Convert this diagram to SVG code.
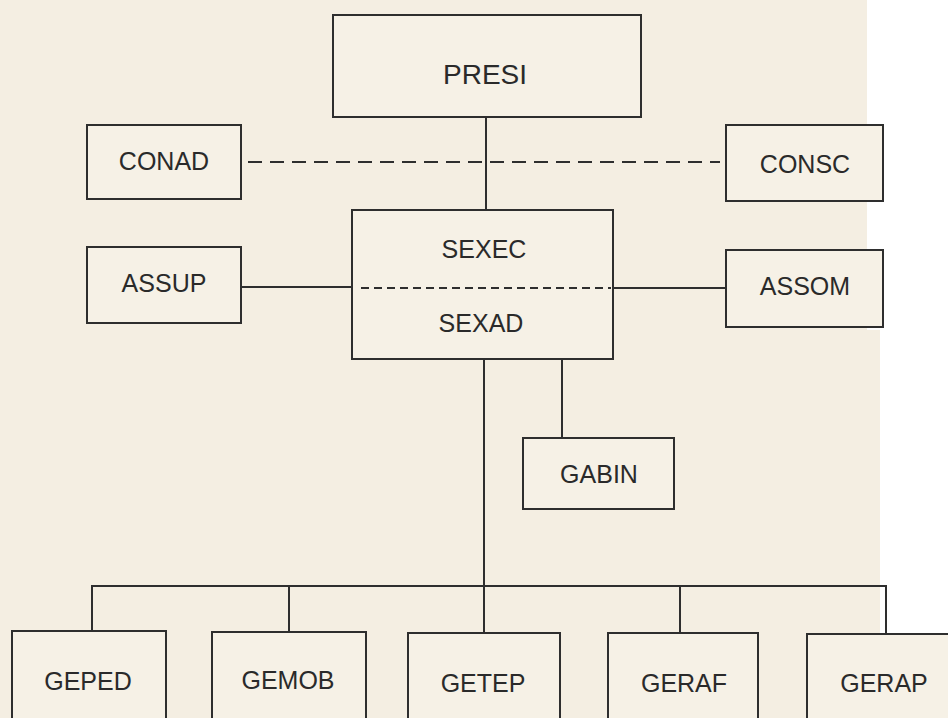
<svg xmlns="http://www.w3.org/2000/svg" width="948" height="718" viewBox="0 0 948 718">
  <style>
    .box { fill: #f6f1e6; stroke: #2e2e2e; stroke-width: 2; }
    .ln { fill: none; stroke: #2e2e2e; stroke-width: 2; }
    .dash { fill: none; stroke: #2e2e2e; stroke-width: 2; stroke-dasharray: 14 8; }
    .dash2 { fill: none; stroke: #2e2e2e; stroke-width: 2; stroke-dasharray: 8 5; }
    text { font-family: "Liberation Sans", Arial, sans-serif; font-size: 25px; fill: #2a2a2a; text-anchor: middle; }
  </style>
  <rect x="0" y="0" width="948" height="718" fill="#ffffff"/>
  <path d="M0 0 H867 V330 H880 V718 H0 Z" fill="#f4eee2"/>

  <g id="connectors">
    <line class="ln" x1="486" y1="117" x2="486" y2="210"/>
    <line class="dash" x1="248" y1="162" x2="720" y2="162"/>
    <line class="ln" x1="241" y1="287" x2="352" y2="287"/>
    <line class="ln" x1="613" y1="288" x2="726" y2="288"/>
    <line class="ln" x1="562" y1="359" x2="562" y2="438"/>
    <line class="ln" x1="484" y1="359" x2="484" y2="586"/>
    <polyline class="ln" points="92,631 92,586 886,586 886,634"/>
    <line class="ln" x1="289" y1="586" x2="289" y2="632"/>
    <line class="ln" x1="484" y1="586" x2="484" y2="633"/>
    <line class="ln" x1="680" y1="586" x2="680" y2="633"/>
  </g>

  <g id="PRESI">
    <rect class="box" x="333" y="15" width="308" height="102"/>
    <text x="485" y="84" style="font-size:28px">PRESI</text>
  </g>
  <g id="CONAD">
    <rect class="box" x="87" y="125" width="154" height="74"/>
    <text x="164" y="170">CONAD</text>
  </g>
  <g id="CONSC">
    <rect class="box" x="726" y="125" width="157" height="76"/>
    <text x="805" y="173">CONSC</text>
  </g>
  <g id="SEXEC">
    <rect class="box" x="352" y="210" width="261" height="149"/>
    <line class="dash2" x1="361" y1="288" x2="611" y2="288"/>
    <text x="484" y="258">SEXEC</text>
    <text x="481" y="332">SEXAD</text>
  </g>
  <g id="ASSUP">
    <rect class="box" x="87" y="247" width="154" height="76"/>
    <text x="164" y="292">ASSUP</text>
  </g>
  <g id="ASSOM">
    <rect class="box" x="726" y="250" width="157" height="77"/>
    <text x="805" y="295">ASSOM</text>
  </g>
  <g id="GABIN">
    <rect class="box" x="523" y="438" width="151" height="71"/>
    <text x="599" y="483">GABIN</text>
  </g>
  <g id="GEPED">
    <rect class="box" x="12" y="631" width="154" height="100"/>
    <text x="88" y="690">GEPED</text>
  </g>
  <g id="GEMOB">
    <rect class="box" x="212" y="632" width="154" height="100"/>
    <text x="288" y="689">GEMOB</text>
  </g>
  <g id="GETEP">
    <rect class="box" x="408" y="633" width="152" height="100"/>
    <text x="483" y="692">GETEP</text>
  </g>
  <g id="GERAF">
    <rect class="box" x="608" y="633" width="150" height="100"/>
    <text x="684" y="692">GERAF</text>
  </g>
  <g id="GERAP">
    <rect class="box" x="807" y="634" width="160" height="100"/>
    <text x="884" y="692">GERAP</text>
  </g>
</svg>
